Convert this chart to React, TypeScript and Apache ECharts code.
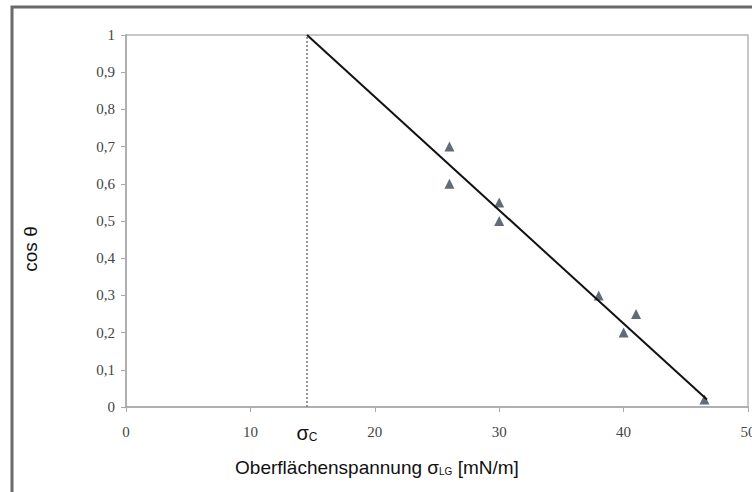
import React, { useEffect, useRef } from "react";
import * as echarts from "echarts";

const surfaceTension = [26, 26, 30, 30, 38, 40, 41, 46.5];
const cosTheta = [0.7, 0.6, 0.55, 0.5, 0.3, 0.2, 0.25, 0.02];
const fitX = [14.55, 46.7];
const fitY = [1, 0.02];
const sigmaC = 14.55;
const xTicks = [0, 10, 20, 30, 40, 50];
const yTicks = [0, 0.1, 0.2, 0.3, 0.4, 0.5, 0.6, 0.7, 0.8, 0.9, 1];

export default function App() {
  const ref = useRef<HTMLDivElement>(null);
  useEffect(() => {
    const chart = echarts.init(ref.current!, null, { renderer: "svg" });
    const serif = "Liberation Serif";
    const sans = "Liberation Sans";
    chart.setOption({
      animation: false,
      backgroundColor: "#fff",
      grid: {
        left: 126,
        right: 4,
        top: 35,
        bottom: 85,
        show: true,
        containLabel: false,
        outerBoundsMode: "none",
        borderColor: "#b5b5b5",
        borderWidth: 1.5,
      },
      xAxis: {
        type: "value",
        min: xTicks[0],
        max: xTicks[xTicks.length - 1],
        interval: 10,
        splitLine: { show: false },
        axisLine: { lineStyle: { color: "#a8a8a8", width: 1.5 } },
        axisTick: { show: true, length: 5, lineStyle: { color: "#a8a8a8" } },
        axisLabel: {
          color: "#444",
          fontFamily: serif,
          fontSize: 15,
          margin: 17,
          showMaxLabel: true,
        },
      },
      yAxis: {
        type: "value",
        min: yTicks[0],
        max: yTicks[yTicks.length - 1],
        interval: 0.1,
        splitLine: { show: false },
        axisLine: { lineStyle: { color: "#a8a8a8", width: 1.5 } },
        axisTick: { show: true, length: 5, inside: false, lineStyle: { color: "#a8a8a8" } },
        axisLabel: {
          color: "#444",
          fontFamily: serif,
          fontSize: 15,
          margin: 11,
          formatter: (v: number) => String(Math.round(v * 10) / 10).replace(".", ","),
        },
        name: "cos θ",
        nameLocation: "middle",
        nameRotate: 90,
        nameGap: 86,
        nameTextStyle: { fontFamily: sans, fontSize: 19, color: "#111", padding: [0, 56, 0, 0] },
      },
      graphic: [
        {
          type: "rect",
          shape: { x: 12, y: 7, width: 760, height: 500 },
          style: { fill: "none", stroke: "#6a6a6a", lineWidth: 3 },
          silent: true,
        },
        {
          type: "text",
          x: 307,
          y: 433,
          style: {
            text: "{s|σ}{c|C}",
            align: "center",
            verticalAlign: "middle",
            rich: {
              s: { font: `20px ${sans}`, fill: "#111" },
              c: { font: `12px ${sans}`, fill: "#111", padding: [8, 0, 0, 0] },
            },
          },
        },
        {
          type: "text",
          x: 377,
          y: 467,
          style: {
            text: "{a|Oberflächenspannung σ}{b|LG}{a| [mN/m]}",
            align: "center",
            verticalAlign: "middle",
            rich: {
              a: { font: `19px ${sans}`, fill: "#111" },
              b: { font: `10px ${sans}`, fill: "#111", padding: [8, 0, 0, 0] },
            },
          },
        },
      ],
      series: [
        {
          type: "line",
          data: [
            [sigmaC, yTicks[0]],
            [sigmaC, yTicks[yTicks.length - 1]],
          ],
          symbol: "none",
          lineStyle: { color: "#777", width: 1.5, type: [2, 2] },
          silent: true,
        },
        {
          type: "line",
          data: fitX.map((x, i) => [x, fitY[i]]),
          symbol: "none",
          lineStyle: { color: "#111", width: 2 },
          silent: true,
        },
        {
          type: "scatter",
          data: surfaceTension.map((x, i) => [x, cosTheta[i]]),
          symbol: "triangle",
          symbolSize: [10, 10],
          itemStyle: { color: "#3b4656" },
        },
      ],
    });
    return () => chart.dispose();
  }, []);
  return <div ref={ref} style={{ width: 752, height: 492, position: "fixed", left: 0, top: 0 }} />;
}
